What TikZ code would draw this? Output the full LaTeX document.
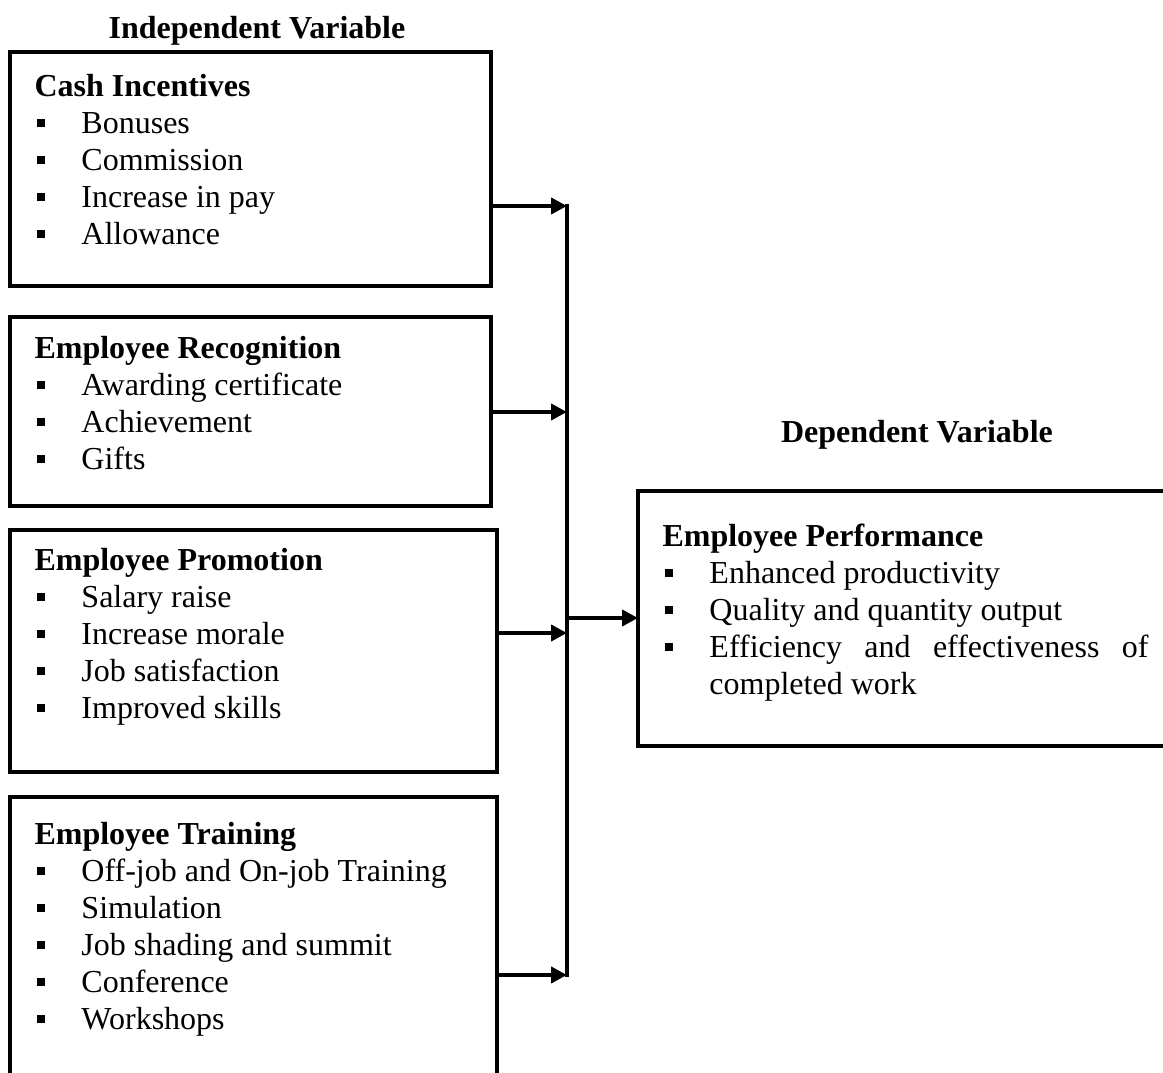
\documentclass[tikz,border=0pt]{standalone}
\usepackage{fontspec}
\setmainfont{Liberation Serif}
\usetikzlibrary{positioning,arrows.meta}

% square bullet with its hanging indent
\newcommand{\sqitem}{\makebox[17.6pt][l]{\hspace{0.75pt}\rule[2.5pt]{3pt}{3pt}}}

\begin{document}
\begin{tikzpicture}[
            x=0.375pt, y=-0.375pt,
            font=\fontsize{12pt}{13.875pt}\selectfont,
            varbox/.style={draw, line width=1.6pt, anchor=north west, inner sep=0pt, outer sep=0pt},
            itemlist/.style={anchor=base west, inner sep=0pt},
            heading/.style={anchor=base, inner sep=0pt, font=\fontsize{12pt}{13.875pt}\selectfont\bfseries},
            link/.style={line width=1.6pt, -{Triangle[length=6pt,width=6pt]}},
            bus/.style={line width=1.8pt, line cap=rect}
        ]
            \useasboundingbox (0,0) rectangle (1163,1073);
            \clip (0,0) rectangle (1163,1073);

            % Headings
            \node[heading] (indep) at (257,39) {Independent Variable};
            \node[heading] (dep) at (917,443) {Dependent Variable};

            % Independent variable boxes
            \node[varbox, minimum width=180.4pt, minimum height=87.75pt] (cash) at (10,52) {};
            \node[varbox, minimum width=180.4pt, minimum height=70.9pt] (recog) at (10,317) {};
            \node[varbox, minimum width=182.6pt, minimum height=90.75pt] (promo) at (10,530) {};
            \node[varbox, minimum width=182.6pt, minimum height=112.5pt] (train) at (10,797) {};

            % Dependent variable box
            \node[varbox, minimum width=210pt, minimum height=95.6pt] (perf) at (638,491) {};

            % Box contents
            \node[itemlist] (cashtxt) at (34,97) {\parbox[t]{170pt}{%
                \textbf{Cash Incentives}\\
                \sqitem Bonuses\\
                \sqitem Commission\\
                \sqitem Increase in pay\\
                \sqitem Allowance}};
            \node[itemlist] (recogtxt) at (34,359) {\parbox[t]{170pt}{%
                \textbf{Employee Recognition}\\
                \sqitem Awarding certificate\\
                \sqitem Achievement\\
                \sqitem Gifts}};
            \node[itemlist] (promotxt) at (34,571) {\parbox[t]{170pt}{%
                \textbf{Employee Promotion}\\
                \sqitem Salary raise\\
                \sqitem Increase morale\\
                \sqitem Job satisfaction\\
                \sqitem Improved skills}};
            \node[itemlist] (traintxt) at (34,845) {\parbox[t]{170pt}{%
                \textbf{Employee Training}\\
                \sqitem Off-job and On-job Training\\
                \sqitem Simulation\\
                \sqitem Job shading and summit\\
                \sqitem Conference\\
                \sqitem Workshops}};
            \node[itemlist] (perftxt) at (662,547) {\parbox[t]{190pt}{%
                \textbf{Employee Performance}\\
                \sqitem Enhanced productivity\\
                \sqitem Quality and quantity output\\
                \sqitem \makebox[164.6pt][s]{Efficiency and effectiveness of}\\
                \hspace*{17.6pt}completed work}};

            % Collecting line
            \coordinate (b1) at (567,206);
            \coordinate (b2) at (567,412);
            \coordinate (b3) at (567,633);
            \coordinate (b4) at (567,975);
            \coordinate (bm) at (565,618);
            \draw[bus] (b1) -- (b4);

            % Connections into the collecting line
            \draw[link] (cash.east |- b1) -- (b1);
            \draw[link] (recog.east |- b2) -- (b2);
            \draw[link] (promo.east |- b3) -- (b3);
            \draw[link] (train.east |- b4) -- (b4);

            % Connection to the dependent variable
            \draw[link] (bm) -- (perf.west |- bm);
        \end{tikzpicture}
\end{document}
